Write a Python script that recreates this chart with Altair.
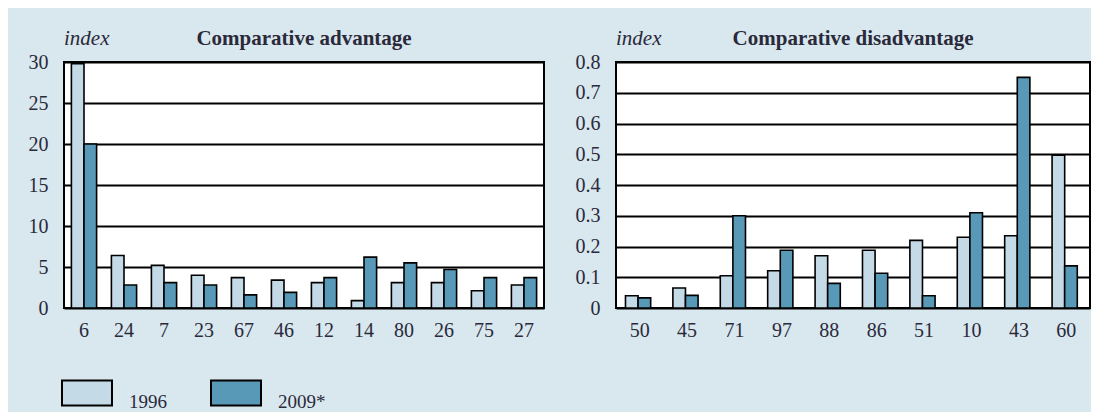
import altair as alt
import pandas as pd

# ---- data ----
adv_products = ["6", "24", "7", "23", "67", "46", "12", "14", "80", "26", "75", "27"]
adv_1996 = [29.8, 6.4, 5.2, 4.0, 3.7, 3.4, 3.1, 0.9, 3.1, 3.1, 2.1, 2.8]
adv_2009 = [20.0, 2.8, 3.1, 2.8, 1.6, 1.9, 3.7, 6.2, 5.5, 4.7, 3.7, 3.7]

dis_products = ["50", "45", "71", "97", "88", "86", "51", "10", "43", "60"]
dis_1996 = [0.040, 0.065, 0.105, 0.121, 0.170, 0.188, 0.220, 0.230, 0.235, 0.497]
dis_2009 = [0.033, 0.041, 0.300, 0.188, 0.080, 0.113, 0.040, 0.310, 0.750, 0.137]

years = ["1996", "2009*"]
adv_ticks = [0, 5, 10, 15, 20, 25, 30]
dis_ticks = [0, 0.1, 0.2, 0.3, 0.4, 0.5, 0.6, 0.7, 0.8]

BG = "#d9e7ef"
LIGHT = "#c4dbe7"
DARK = "#5999b8"
TXT = "#2a2a3a"
FONT = "Liberation Serif"


def long_df(products, v1, v2):
    rows = []
    for p, a, b in zip(products, v1, v2):
        rows.append({"product": p, "year": years[0], "value": a})
        rows.append({"product": p, "year": years[1], "value": b})
    return pd.DataFrame(rows)


def panel(df, products, ticks, title, w, h, pad_inner, pad_outer, label_expr):
    color = alt.Color(
        "year:N",
        scale=alt.Scale(domain=years, range=[LIGHT, DARK]),
        legend=alt.Legend(
            title=None,
            orient="none",
            legendX=-3,
            legendY=h + 59,
            direction="horizontal",
            symbolType="M-1,-0.5H1V0.5H-1Z",
            symbolSize=2500,
            symbolStrokeColor="black",
            symbolStrokeWidth=2,
            labelFont=FONT,
            labelFontSize=19,
            labelColor=TXT,
            labelOffset=16,
            labelBaseline="top",
            columnPadding=40,
        ),
    )
    bars = alt.Chart(df).mark_bar(stroke="black", strokeWidth=1.6).encode(
        x=alt.X(
            "product:N",
            sort=products,
            scale=alt.Scale(paddingInner=pad_inner, paddingOuter=pad_outer),
            axis=alt.Axis(
                title=None, labelAngle=0, ticks=False, tickSize=0, domain=False,
                labelPadding=12, labelFont=FONT, labelFontSize=20, labelColor=TXT,
                grid=False,
            ),
        ),
        xOffset=alt.XOffset("year:N", sort=years),
        y=alt.Y(
            "value:Q",
            scale=alt.Scale(domain=[ticks[0], ticks[-1]], nice=False),
            axis=alt.Axis(
                title=None, values=ticks, ticks=False, tickSize=0, domain=False,
                labelPadding=16, labelFont=FONT, labelFontSize=20, labelColor=TXT,
                labelExpr=label_expr,
                grid=True, gridColor="black", gridWidth=2, gridOpacity=1,
            ),
        ),
        color=color,
    )
    idx = alt.Chart(pd.DataFrame({"t": ["index"]})).mark_text(
        font=FONT, fontSize=21, fontStyle="italic", color=TXT, align="left", baseline="middle"
    ).encode(text="t:N", x=alt.value(0), y=alt.value(-23))
    ttl = alt.Chart(pd.DataFrame({"t": [title]})).mark_text(
        font=FONT, fontSize=21, fontWeight="bold", color=TXT, align="center", baseline="middle"
    ).encode(text="t:N", x=alt.value(w / 2), y=alt.value(-23))
    return alt.layer(bars, idx, ttl).properties(width=w, height=h)


left = panel(long_df(adv_products, adv_1996, adv_2009), adv_products, adv_ticks,
             "Comparative advantage", 480, 246, 0.37, 0.185,
             "format(datum.value, 'd')")
right = panel(long_df(dis_products, dis_1996, dis_2009), dis_products, dis_ticks,
              "Comparative disadvantage", 474, 246, 0.40, 0.2,
              "datum.value == 0 ? '0' : format(datum.value, '.1f')")

chart = alt.hconcat(left, right, spacing=29).properties(
    background=BG,
    padding={"left": 19, "top": 19, "right": 0, "bottom": 2},
).configure_view(
    stroke="black", strokeWidth=2, fill="white"
)

chart.save("out.html", embed_options={"renderer": "svg", "actions": False})
